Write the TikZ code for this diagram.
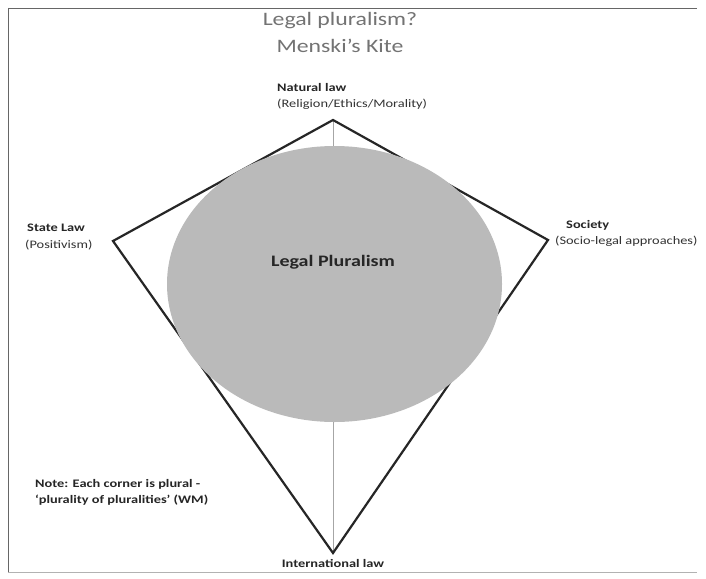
\documentclass[tikz,border=0pt]{standalone}
\usepackage{fontspec}
\setmainfont{Carlito}[FakeStretch=1.25]
\begin{document}
\begin{tikzpicture}[x=1pt,y=-1pt,
  lbl/.style={font=\fontsize{11.5}{13}\selectfont\bfseries, text=black!85, inner sep=0pt},
  sub/.style={font=\fontsize{11.5}{13}\selectfont, text=black!80, inner sep=0pt},
  ttl/.style={font=\fontsize{19}{22}\selectfont, text=black!55, inner sep=0pt},
  kite/.style={draw=black!85, line width=2.2pt, line join=miter},
  axis/.style={draw=black!35, line width=0.5pt}]
\useasboundingbox (0,0) rectangle (706,578);
\fill[white] (0,0) rectangle (706,578);
% frame
\draw[black!60, line width=0.8pt] (8,8) -- (697,8);
\draw[black!60, line width=0.6pt] (8,8) -- (8,572);
\draw[black!30, line width=0.5pt] (8,572) -- (697,572);

% title
\node[ttl] (t1) at (340,21) {Legal pluralism?};
\node[ttl] (t2) at (340,46) {Menski's Kite};

% corners of the kite
\coordinate (top) at (333,120);
\coordinate (left) at (113,241);
\coordinate (right) at (548,240);
\coordinate (bot) at (333,553);

% axis, kite outline, then the circle on top
\draw[axis] (top) -- (bot);
\draw[kite] (top) -- (right) -- (bot) -- (left) -- cycle;
\fill[black!27] (334.5,284) ellipse [x radius=167.5, y radius=138];
\node[lbl, font=\fontsize{16}{18}\selectfont\bfseries] (lp) at (333,262) {Legal Pluralism};

% corner labels
\node[lbl, anchor=west] (nl) at (277,88) {Natural law};
\node[sub, anchor=west] (nls) at (277,104) {(Religion/Ethics/Morality)};
\node[lbl, anchor=west] (sl) at (27,228) {State Law};
\node[sub, anchor=west] (sls) at (25,245) {(Positivism)};
\node[lbl, anchor=west] (so) at (566,225) {Society};
\node[sub, anchor=west] (sos) at (555,241) {(Socio-legal approaches)};
\node[lbl] (il) at (333,563) {International law};

% note
\node[lbl, anchor=west] (n1) at (35,484) {Note: Each corner is plural -};
\node[lbl, anchor=west] (n2) at (35,500) {`plurality of pluralities' (WM)};
\end{tikzpicture}
\end{document}
